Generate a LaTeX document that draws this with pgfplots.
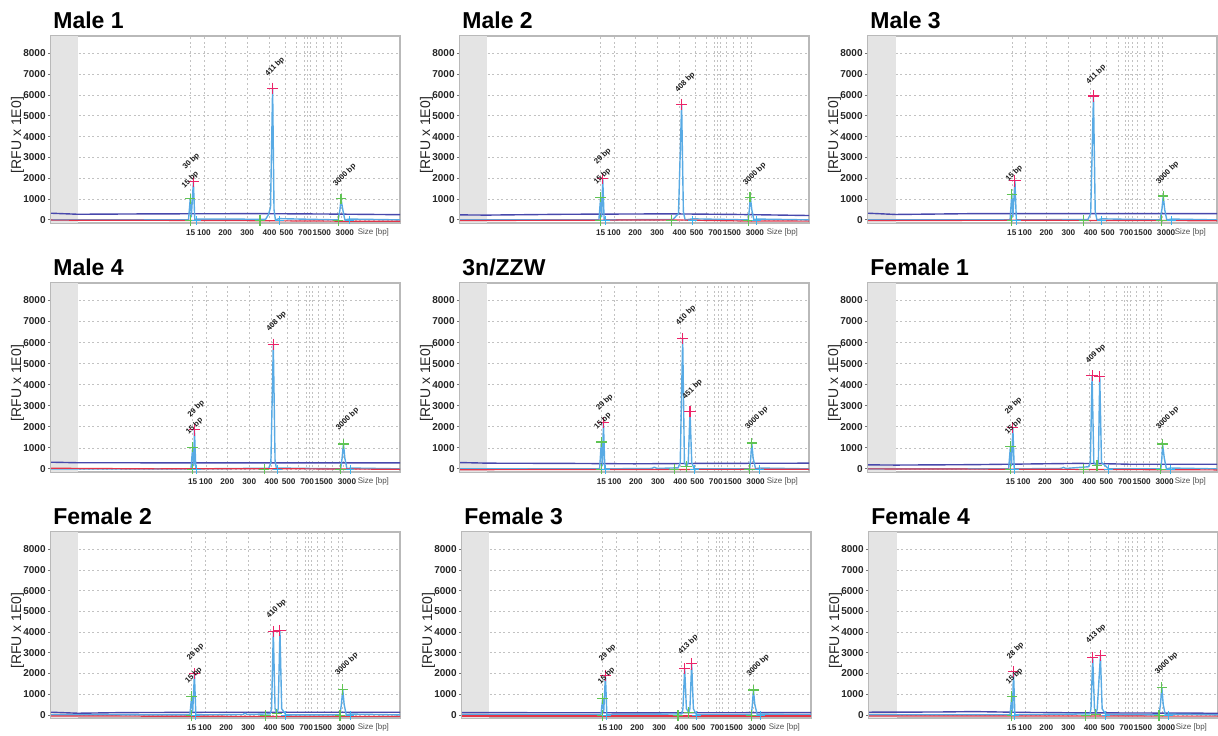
\documentclass[border=0pt]{standalone}
\usepackage{fontspec}
\setmainfont{Liberation Sans}
\setsansfont{Liberation Sans}
\usepackage{pgfplots}
\pgfplotsset{compat=1.18}

\definecolor{trace}{RGB}{88,170,228}
\definecolor{baseblue}{RGB}{72,72,172}
\definecolor{basered}{RGB}{228,52,72}
\definecolor{pk}{RGB}{236,36,104}
\definecolor{gr}{RGB}{96,196,84}
\definecolor{lb}{RGB}{60,180,240}
\definecolor{band}{RGB}{228,228,228}
\definecolor{frame}{RGB}{185,185,185}

% one electropherogram panel: #1 = -(x of the 15 bp line), #2 = 100 + #1
\pgfplotsset{
  epg/.style n args={2}{
    set layers, scale only axis, width=174.5pt, height=93.5pt,
    xmin=#1, xmax=#2, x filter/.expression={x+#1},
    ymin=-150, ymax=8830, clip=false,
    axis line style={draw=frame, line width=0.6pt},
    ytick={0,1000,...,8000},
    yticklabels={0,1000,2000,3000,4000,5000,6000,7000,8000},
    ytick pos=left, tick align=outside, major tick length=1.5pt,
    y tick style={black!55, line width=0.4pt},
    yticklabel style={font=\fontsize{5}{5}\selectfont\bfseries, inner sep=1pt, text=black!85},
    ymajorgrids,
    grid style={black!24, dash pattern=on 1pt off 1.3pt, line width=0.3pt},
    xtick={0,3.8,9.9,16.2,22.6,27.5,32.8,37.6,44.2},
    xticklabels={15,100,200,300,400,500,700,1500,3000},
    x tick style={draw=none},
    xticklabel style={font=\fontsize{4.1}{4.1}\selectfont\bfseries, text=black!85, inner sep=1pt, yshift=-0.6pt},
    extra x ticks={3.8,9.9,16.2,22.6,27.0,30.4,32.5,33.4,34.4,36.1,38.0,39.9,42.0,43.2,0.01},
    extra x tick labels={},
    extra x tick style={grid=major, major tick length=0pt},
    xlabel={Size [bp]},
    xlabel style={at={(rel axis cs:0.878,0)}, anchor=west, yshift=-4.6pt, inner sep=0pt,
      font=\fontsize{4}{4}\selectfont, text=black!70},
    ylabel={[RFU x 1E0]},
    ylabel style={at={(rel axis cs:0,0.47)}, anchor=south, yshift=10pt,
      font=\fontsize{7}{7}\selectfont, text=black!85},
    title style={at={(rel axis cs:0,1)}, anchor=base west, xshift=1pt, yshift=-2.1pt, inner sep=0pt,
      font=\fontsize{11.5}{11.5}\selectfont\bfseries},
  },
  band/.style={fill=band, draw=none},
  tr/.style={color=trace, line width=0.7pt, line join=round},
  bb/.style={color=baseblue, line width=0.7pt},
  br/.style={color=basered, line width=0.6pt},
  pkm/.style={only marks, mark=+, mark size=2.8pt, mark options={color=pk, line width=0.55pt}},
  grm/.style={only marks, mark=+, mark size=2.6pt, mark options={color=gr, line width=0.6pt}},
  lbm/.style={only marks, mark=+, mark size=2.2pt, mark options={color=lb, line width=0.5pt}},
  lbl/.style={only marks, mark=*, mark size=0pt, mark options={draw=none, fill=none},
    point meta=explicit symbolic, nodes near coords,
    every node near coord/.append style={rotate=45, anchor=south west, inner sep=0pt,
      font=\fontsize{3.8}{3.8}\selectfont\bfseries, text=black!90}},
}

\begin{document}
\begin{tikzpicture}

% ---------------- Male 1
\begin{axis}[epg={-40.0}{60.0}, at={(25.5pt,349.5pt)}, anchor=north west, title={Male 1}]
\addplot[band] coordinates {(0,-150)(7.8,-150)(7.8,8830)(0,8830)} --cycle;
\addplot[bb] coordinates {(0,320)(7.7,270)(30,290)(60,300)(80,280)(100,250)};
\addplot[tr] coordinates {(0,0)(39.4,0)(39.9,1010)(40.2,150)(40.8,1800)(41.2,0)(41.7,40)(61.5,30)(62.3,250)(62.9,600)(63.5,6320)(63.9,500)(64.3,0)(65.4,60)(82.3,0)(82.8,500)(83.1,1010)(83.6,500)(84.2,0)(85.5,40)(100,0)};
\addplot[br] coordinates {(0,-10)(20,-20)(50,-30)(80,-60)(100,-70)};
\addplot[pkm] coordinates {(40.8,1840)(63.5,6320)};
\addplot[grm] coordinates {(39.9,1010)(39.9,-20)(59.9,-20)(82.3,-20)(83.1,1010)};
\addplot[lbm] coordinates {(41.7,-20)(65.4,-20)(85.5,-10)};
\addplot[lbl] coordinates {(38.9,2320)[30 bp] (38.6,1440)[15 bp] (62.5,6800)[411 bp] (82.0,1520)[3000 bp]};
\end{axis}

% ---------------- Male 2
\begin{axis}[epg={-40.3}{59.7}, at={(230pt,349.5pt)}, anchor=north west, title={Male 2}]
\addplot[band] coordinates {(0,-150)(7.8,-150)(7.8,8830)(0,8830)} --cycle;
\addplot[bb] coordinates {(0,240)(7.7,230)(30,270)(60,290)(80,260)(100,210)};
\addplot[tr] coordinates {(0,0)(39.8,0)(40.3,1090)(40.6,150)(40.9,1970)(41.3,0)(61,20)(62.6,300)(63.5,5550)(64.0,400)(64.5,0)(66.7,50)(82.6,0)(82.9,500)(83.2,1090)(83.6,500)(84.2,0)(85.0,40)(100,0)};
\addplot[br] coordinates {(0,-30)(30,-20)(60,0)(80,-50)(100,-60)};
\addplot[pkm] coordinates {(40.9,1970)(63.5,5550)};
\addplot[grm] coordinates {(40.3,1090)(40.3,-20)(60.6,-20)(82.6,-20)(83.1,1090)};
\addplot[lbm] coordinates {(41.6,-20)(66.7,-20)(85.0,-20)};
\addplot[lbl] coordinates {(39.6,2560)[29 bp] (39.5,1600)[15 bp] (62.8,6060)[408 bp] (82.3,1570)[3000 bp]};
\end{axis}

% ---------------- Male 3
\begin{axis}[epg={-41.2}{58.8}, at={(434pt,349.5pt)}, anchor=north west, title={Male 3}]
\addplot[band] coordinates {(0,-150)(8.0,-150)(8.0,8830)(0,8830)} --cycle;
\addplot[bb] coordinates {(0,320)(8,260)(30,300)(60,300)(100,300)};
\addplot[tr] coordinates {(0,0)(40.7,0)(41.2,1230)(41.5,150)(42.1,1870)(42.5,0)(63,20)(63.8,300)(64.6,5950)(65.1,400)(65.6,0)(66.9,50)(83.7,0)(84.2,500)(84.6,1150)(85.0,500)(85.6,0)(87.0,40)(100,0)};
\addplot[br] coordinates {(0,-30)(50,-20)(100,-40)};
\addplot[pkm] coordinates {(42.1,1870)(64.6,5950)};
\addplot[grm] coordinates {(41.2,1230)(41.2,-20)(61.8,-20)(84.1,-20)(84.6,1150)};
\addplot[lbm] coordinates {(42.5,-20)(66.9,-20)(87.0,-20)};
\addplot[lbl] coordinates {(40.6,1740)[15 bp] (63.7,6430)[411 bp] (83.7,1630)[3000 bp]};
\end{axis}

% ---------------- Male 4
\begin{axis}[epg={-40.6}{59.4}, height=94.5pt, at={(25.5pt,226pt)}, anchor=north west, title={Male 4}]
\addplot[band] coordinates {(0,-150)(7.8,-150)(7.8,8830)(0,8830)} --cycle;
\addplot[bb] coordinates {(0,316)(8,290)(50,285)(100,285)};
\addplot[tr] coordinates {(0,0)(40.1,0)(40.6,1030)(40.9,150)(41.1,1850)(41.5,0)(62.4,30)(63.0,300)(63.7,5925)(64.2,400)(64.6,0)(64.8,40)(83.0,0)(83.4,500)(83.8,1185)(84.2,500)(84.8,0)(85.7,40)(100,0)};
\addplot[br] coordinates {(0,30)(30,0)(60,10)(100,-20)};
\addplot[pkm] coordinates {(41.1,1850)(63.7,5925)};
\addplot[grm] coordinates {(40.6,1030)(40.6,-20)(61.1,-20)(83.0,-20)(83.8,1185)};
\addplot[lbm] coordinates {(41.8,-20)(64.8,-20)(85.7,-20)};
\addplot[lbl] coordinates {(40.3,2370)[29 bp] (39.8,1550)[15 bp] (62.9,6450)[408 bp] (82.8,1740)[3000 bp]};
\end{axis}

% ---------------- 3n/ZZW
\begin{axis}[epg={-40.5}{59.5}, height=94.5pt, at={(230pt,226pt)}, anchor=north west, title={3n/ZZW}]
\addplot[band] coordinates {(0,-150)(7.8,-150)(7.8,8830)(0,8830)} --cycle;
\addplot[bb] coordinates {(0,300)(8,270)(30,260)(50,240)(60,250)(70,260)(100,270)};
\addplot[tr] coordinates {(0,0)(40.0,0)(40.5,1280)(40.8,150)(41.1,2190)(41.5,0)(55.0,20)(55.7,80)(56.4,20)(62.5,50)(63.1,300)(63.8,6190)(64.3,300)(64.9,110)(65.4,300)(65.9,2720)(66.4,300)(67.1,0)(83.0,0)(83.3,500)(83.6,1230)(84.0,500)(84.7,0)(85.7,40)(100,0)};
\addplot[br] coordinates {(0,-40)(40,-30)(100,-20)};
\addplot[pkm] coordinates {(41.1,2190)(63.8,6190)(65.9,2720)};
\addplot[grm] coordinates {(40.5,1280)(40.5,-20)(61.4,-20)(64.9,110)(83.0,-20)(83.6,1230)};
\addplot[lbm] coordinates {(41.7,-20)(67.1,-20)(85.7,-20)};
\addplot[lbl] coordinates {(40.2,2670)[29 bp] (39.6,1790)[15 bp] (63.0,6750)[410 bp] (64.9,3230)[451 bp] (82.9,1790)[3000 bp]};
\end{axis}

% ---------------- Female 1
\begin{axis}[epg={-40.8}{59.2}, height=94.5pt, at={(434pt,226pt)}, anchor=north west, title={Female 1}]
\addplot[band] coordinates {(0,-150)(8.0,-150)(8.0,8830)(0,8830)} --cycle;
\addplot[bb] coordinates {(0,190)(8,180)(30,200)(50,240)(60,260)(66,250)(75,220)(100,220)};
\addplot[tr] coordinates {(0,0)(40.3,0)(40.8,1070)(41.1,150)(41.5,1950)(41.9,0)(55.3,20)(56.0,70)(56.7,20)(63.2,100)(63.7,300)(64.2,4430)(64.7,300)(65.6,160)(66.0,300)(66.4,4380)(66.9,300)(69.0,0)(83.9,0)(84.2,500)(84.4,1180)(84.9,500)(85.5,0)(86.6,40)(100,0)};
\addplot[br] coordinates {(0,0)(50,-20)(100,-50)};
\addplot[pkm] coordinates {(41.5,1950)(64.2,4430)(66.4,4380)};
\addplot[grm] coordinates {(40.8,1070)(40.8,-20)(61.8,-20)(65.6,160)(83.9,-20)(84.4,1180)};
\addplot[lbm] coordinates {(41.9,-20)(69.0,-20)(86.6,-20)};
\addplot[lbl] coordinates {(40.4,2510)[29 bp] (40.4,1550)[15 bp] (63.5,4910)[409 bp] (83.7,1790)[3000 bp]};
\end{axis}

% ---------------- Female 2
\begin{axis}[epg={-40.3}{59.7}, height=93pt, at={(25.5pt,101.5pt)}, anchor=north west, title={Female 2}]
\addplot[band] coordinates {(0,-150)(7.8,-150)(7.8,8830)(0,8830)} --cycle;
\addplot[bb] coordinates {(0,130)(7.7,80)(20,110)(50,130)(100,130)};
\addplot[tr] coordinates {(0,0)(39.8,0)(40.3,900)(40.6,150)(41.1,1980)(41.5,0)(55.0,20)(55.6,80)(56.2,20)(62.8,50)(63.2,300)(63.7,4025)(64.2,300)(64.7,50)(65.1,300)(65.6,4070)(66.1,300)(67.3,0)(82.8,0)(83.2,500)(83.6,1220)(84.0,500)(84.6,0)(85.7,40)(100,0)};
\addplot[br] coordinates {(0,-50)(50,-70)(100,-70)};
\addplot[pkm] coordinates {(41.1,1980)(63.7,4025)(65.6,4070)};
\addplot[grm] coordinates {(40.3,900)(40.3,-20)(61.5,-20)(64.7,50)(82.8,-20)(83.6,1220)};
\addplot[lbm] coordinates {(41.5,-20)(67.3,-20)(85.7,-20)};
\addplot[lbl] coordinates {(40.1,2540)[29 bp] (39.6,1420)[15 bp] (62.9,4560)[410 bp] (82.6,1820)[3000 bp]};
\end{axis}

% ---------------- Female 3
\begin{axis}[epg={-40.3}{59.7}, height=93pt, at={(231pt,101.5pt)}, anchor=north west, title={Female 3}]
\addplot[band] coordinates {(0,-150)(7.8,-150)(7.8,8830)(0,8830)} --cycle;
\addplot[bb] coordinates {(0,110)(50,100)(100,110)};
\addplot[tr] coordinates {(0,0)(39.8,0)(40.3,800)(40.6,150)(41.1,1920)(41.5,0)(63.0,50)(63.3,300)(63.8,2240)(64.3,300)(65.0,110)(65.3,300)(65.8,2460)(66.3,300)(67.2,0)(82.9,0)(83.2,500)(83.5,1200)(83.9,500)(84.6,0)(85.6,40)(100,0)};
\addplot[br] coordinates {(0,-50)(100,-50)};
\addplot[pkm] coordinates {(41.1,1920)(63.8,2240)(65.8,2460)};
\addplot[grm] coordinates {(40.3,800)(40.3,-20)(61.9,-20)(65.0,110)(82.9,-20)(83.5,1200)};
\addplot[lbm] coordinates {(41.5,-20)(67.2,-20)(85.6,-20)};
\addplot[lbl] coordinates {(40.4,2510)[29 bp] (40.1,1390)[15 bp] (63.1,2830)[413 bp] (82.7,1760)[3000 bp]};
\end{axis}

% ---------------- Female 4
\begin{axis}[epg={-40.9}{59.1}, height=93pt, at={(434.5pt,101.5pt)}, anchor=north west, title={Female 4}]
\addplot[band] coordinates {(0,-150)(8.0,-150)(8.0,8830)(0,8830)} --cycle;
\addplot[bb] coordinates {(0,130)(20,140)(30,160)(45,120)(60,100)(100,80)};
\addplot[tr] coordinates {(0,0)(40.4,0)(40.9,890)(41.1,150)(41.4,2090)(41.8,0)(63.3,50)(63.6,300)(64.1,2770)(64.6,300)(65.0,30)(65.4,300)(66.3,2850)(66.8,300)(67.9,0)(83.1,0)(83.5,500)(83.9,1320)(84.3,500)(84.9,0)(85.8,40)(100,0)};
\addplot[br] coordinates {(0,-50)(100,-60)};
\addplot[pkm] coordinates {(41.4,2090)(64.1,2770)(66.3,2850)};
\addplot[grm] coordinates {(40.9,890)(40.9,-20)(62.1,-20)(65.0,30)(83.1,-20)(83.9,1320)};
\addplot[lbm] coordinates {(41.8,-20)(67.9,-20)(85.8,-20)};
\addplot[lbl] coordinates {(40.7,2610)[28 bp] (40.4,1370)[15 bp] (63.3,3350)[413 bp] (83.1,1850)[3000 bp]};
\end{axis}

\pgfresetboundingbox
\path[use as bounding box] (0,0) rectangle (609pt,367.5pt);
\end{tikzpicture}
\end{document}
